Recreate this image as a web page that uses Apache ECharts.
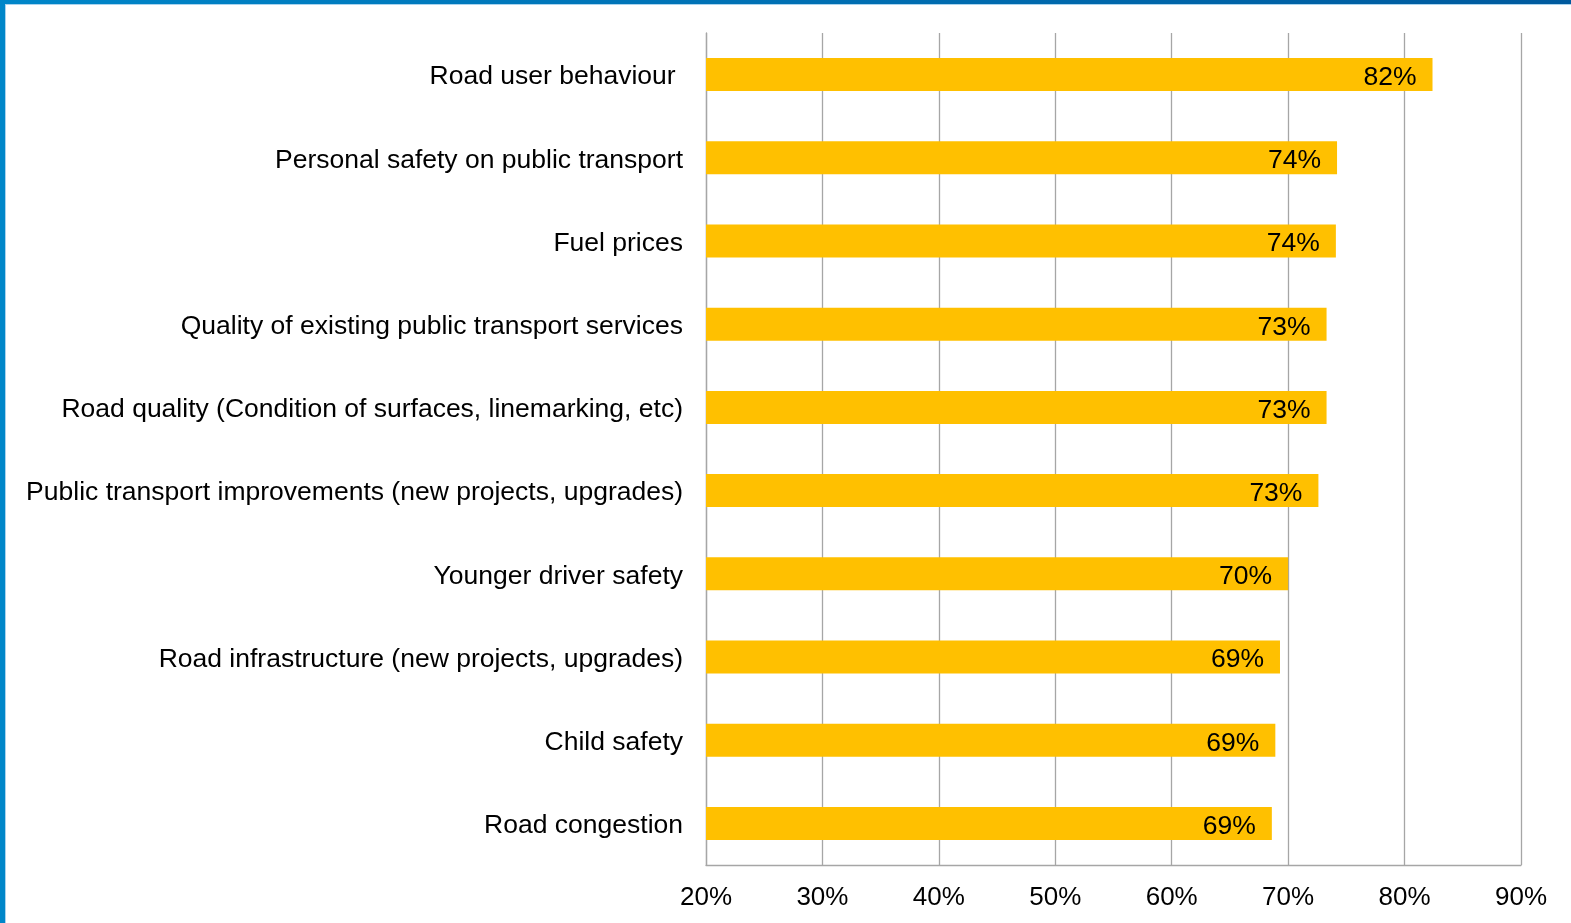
<!DOCTYPE html>
<html>
<head>
<meta charset="utf-8">
<script src="https://cdn.jsdelivr.net/npm/echarts@6/dist/echarts.min.js"></script>
<style>
html,body{margin:0;padding:0;background:#fff;}
#chart{width:1571px;height:923px;}
</style>
</head>
<body>
<div id="chart"></div>
<script>
const categories = [
  "Road user behaviour ",
  "Personal safety on public transport",
  "Fuel prices",
  "Quality of existing public transport services",
  "Road quality (Condition of surfaces, linemarking, etc)",
  "Public transport improvements (new projects, upgrades)",
  "Younger driver safety",
  "Road infrastructure (new projects, upgrades)",
  "Child safety",
  "Road congestion"
];
const values = [82.4, 74.2, 74.1, 73.3, 73.3, 72.6, 70.0, 69.3, 68.9, 68.6];
const xMin = 20, xMax = 90, xStep = 10;

const chart = echarts.init(document.getElementById('chart'), null, {renderer: 'canvas'});
const FONT = '"Liberation Sans", Arial, sans-serif';
chart.setOption({
  animation: false,
  backgroundColor: '#fff',
  grid: {left: 706, right: 50, top: 33, bottom: 58, containLabel: false},
  xAxis: {
    type: 'value', min: xMin, max: xMax, interval: xStep,
    axisLine: {show: true, lineStyle: {color: '#A6A6A6', width: 1.3}},
    axisTick: {show: false},
    splitLine: {show: true, lineStyle: {color: '#A6A6A6', width: 1.3}},
    axisLabel: {formatter: v => v + '%', color: '#000', fontSize: 26, fontFamily: FONT, margin: 20}
  },
  yAxis: {
    type: 'category', data: categories, inverse: true,
    axisLine: {show: true, lineStyle: {color: '#A6A6A6', width: 1.3}},
    axisTick: {show: false},
    axisLabel: {
      color: '#000', fontSize: 26.5, fontFamily: FONT, margin: 23,
      formatter: v => '{a|' + v + '}',
      rich: {a: {color: '#000', fontSize: 26.5, fontFamily: FONT, padding: [5, 0, 0, 0]}}
    }
  },
  series: [{
    type: 'bar', data: values, barWidth: 33,
    itemStyle: {color: '#FFC000'},
    label: {
      show: true, position: 'insideRight', distance: 16, offset: [0, 3],
      formatter: p => Math.round(p.value) + '%',
      color: '#000', fontSize: 26.5, fontFamily: FONT
    }
  }],
  graphic: [
    {type: 'rect', left: 0, top: 0, shape: {width: 1571, height: 4}, silent: true, z: 100,
     style: {fill: new echarts.graphic.LinearGradient(0, 0, 1, 0, [{offset: 0, color: '#0086C9'}, {offset: 1, color: '#005A9E'}])}},
    {type: 'rect', left: 0, top: 4, shape: {width: 1571, height: 1}, silent: true, z: 100, style: {fill: '#A9D3EE'}},
    {type: 'rect', left: 0, top: 0, shape: {width: 5, height: 923}, silent: true, z: 101, style: {fill: '#0086C9'}},
    {type: 'rect', left: 5, top: 4, shape: {width: 1, height: 919}, silent: true, z: 101, style: {fill: '#A9D3EE'}}
  ]
});
</script>
</body>
</html>
